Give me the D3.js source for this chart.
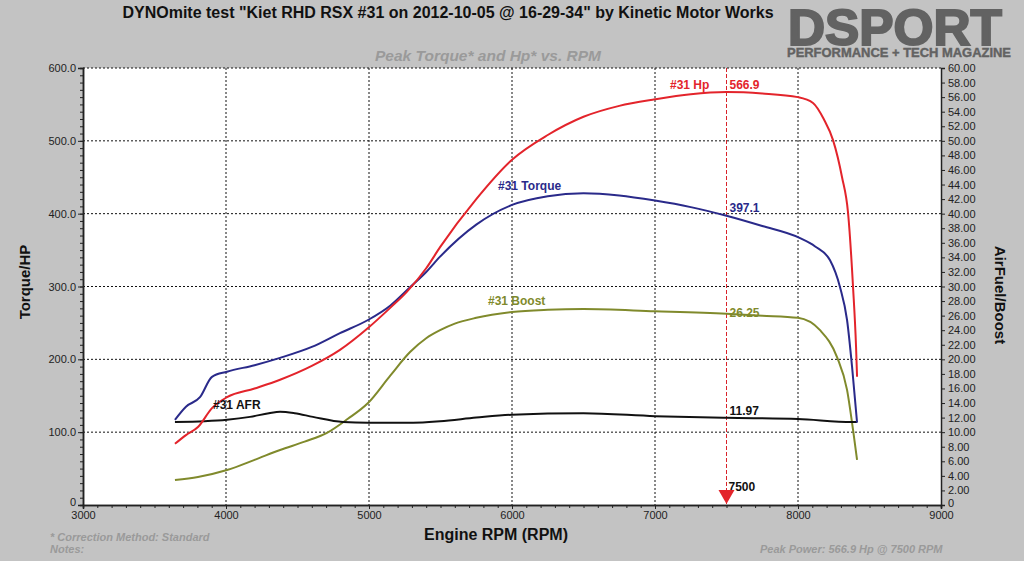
<!DOCTYPE html>
<html>
<head>
<meta charset="utf-8">
<script src="https://cdn.jsdelivr.net/npm/d3@7"></script>
<style>
  html, body { margin: 0; padding: 0; background: #c3c3c3; }
  svg { display: block; font-family: "Liberation Sans", Arial, sans-serif; }
</style>
</head>
<body>
<svg id="chart" width="1024" height="561"></svg>
<script>
// ---- Data ----
const torqueRpm = [3643, 3720, 3818, 3902, 4007, 4200, 4378, 4600, 4797, 4993, 5150, 5287, 5400, 5497, 5750, 6000, 6250, 6500, 6750, 7000, 7250, 7500, 7750, 8007, 8120, 8224, 8294, 8343, 8378, 8413];
const torqueVal = [117, 135, 148, 176, 183, 192, 202, 217, 236, 254, 274, 299, 320, 341, 385, 412, 424, 428, 425, 418, 409, 397.1, 383, 367, 355, 336, 299, 254, 190, 113];

const hpRpm = [3643, 3720, 3804, 3902, 4007, 4200, 4378, 4600, 4797, 4993, 5150, 5266, 5400, 5497, 5750, 6000, 6250, 6500, 6750, 7000, 7250, 7500, 7750, 7999, 8105, 8180, 8245, 8308, 8350, 8385, 8406, 8413];
const hpVal = [84, 96, 107, 133, 148, 160, 172, 191, 213, 243, 271, 293, 325, 354, 420, 474, 508, 533, 548, 557, 564, 566.9, 565, 560, 552, 530, 501, 450, 401, 299, 217, 176];

const boostRpm = [3643, 3804, 4007, 4200, 4378, 4550, 4706, 4850, 4993, 5150, 5287, 5400, 5497, 5600, 5750, 6000, 6250, 6500, 7000, 7500, 7750, 7999, 8154, 8273, 8343, 8385, 8413];
const boostVal = [3.43, 3.85, 4.8, 6.2, 7.55, 8.7, 9.9, 11.8, 14.0, 17.8, 21.0, 22.9, 24.0, 24.9, 25.7, 26.5, 26.8, 26.9, 26.6, 26.25, 26.0, 25.7, 24.0, 20.3, 15.8, 10.3, 6.2];

const afrRpm = [3643, 3850, 4007, 4168, 4300, 4378, 4480, 4608, 4818, 4993, 5308, 5497, 5750, 6000, 6500, 7000, 7500, 7999, 8378, 8413];
const afrVal = [11.4, 11.5, 11.7, 12.1, 12.6, 12.8, 12.6, 12.1, 11.4, 11.3, 11.3, 11.5, 12.0, 12.4, 12.6, 12.2, 11.97, 11.8, 11.4, 11.4];

const xTicks = [3000, 4000, 5000, 6000, 7000, 8000, 9000];
const leftTicks = [0, 100, 200, 300, 400, 500, 600];
const rightTicks = d3.range(0, 61, 2);

const peakRpm = 7500;
const markerValues = { hp: "566.9", torque: "397.1", boost: "26.25", afr: "11.97" };

// ---- Layout ----
const svg = d3.select("#chart");
const L = 83, R = 941, T = 68, B = 505;

const x = d3.scaleLinear().domain([3000, 9000]).range([L, R]);
const yL = d3.scaleLinear().domain([0, 600]).range([B, T]);
const yR = d3.scaleLinear().domain([0, 60]).range([B, T]);

const colors = { hp: "#e3242b", torque: "#2a2a8a", boost: "#808a2c", afr: "#111111" };

// background
svg.append("rect").attr("width", 1024).attr("height", 561).attr("fill", "#c3c3c3");
svg.append("rect").attr("x", L).attr("y", T).attr("width", R - L).attr("height", B - T).attr("fill", "#ffffff");

// title
svg.append("text").attr("x", 448).attr("y", 18).attr("text-anchor", "middle")
  .attr("font-size", 16).attr("font-weight", "bold").attr("fill", "#111")
  .text('DYNOmite test "Kiet RHD RSX #31 on 2012-10-05 @ 16-29-34" by Kinetic Motor Works');

svg.append("text").attr("x", 488).attr("y", 61).attr("text-anchor", "middle")
  .attr("font-size", 15.5).attr("font-weight", "bold").attr("font-style", "italic").attr("fill", "#9a9a9a")
  .text("Peak Torque* and Hp* vs. RPM");

// logo
svg.append("text").attr("x", 788).attr("y", 45)
  .attr("font-size", 50).attr("font-weight", "bold").attr("fill", "#626262")
  .attr("stroke", "#626262").attr("stroke-width", 2).attr("stroke-linejoin", "miter")
  .attr("textLength", 214).attr("lengthAdjust", "spacingAndGlyphs")
  .text("DSPORT");
svg.append("text").attr("x", 787).attr("y", 57)
  .attr("font-size", 12.5).attr("font-weight", "bold").attr("fill", "#626262")
  .attr("stroke", "#626262").attr("stroke-width", 0.4)
  .attr("textLength", 224).attr("lengthAdjust", "spacingAndGlyphs")
  .text("PERFORMANCE + TECH MAGAZINE");

// grid
const grid = svg.append("g").attr("stroke", "#111").attr("stroke-width", 1).attr("stroke-dasharray", "2,2");
grid.selectAll("line.v").data(xTicks.filter(d => d > 3000 && d < 9000)).join("line")
  .attr("x1", d => x(d)).attr("x2", d => x(d)).attr("y1", T).attr("y2", B);
grid.selectAll("line.h").data(leftTicks.filter(d => d > 0)).join("line")
  .attr("x1", L).attr("x2", R).attr("y1", d => yL(d)).attr("y2", d => yL(d));

// peak marker line
svg.append("line").attr("x1", x(peakRpm)).attr("x2", x(peakRpm)).attr("y1", T).attr("y2", B)
  .attr("stroke", "#d9232a").attr("stroke-width", 1).attr("stroke-dasharray", "4,2");

// axes
function styleAxis(g) {
  g.select(".domain").attr("stroke", "#222").attr("stroke-width", 1.5);
  g.selectAll(".tick line").attr("stroke", "#222");
  g.selectAll(".tick text").attr("font-size", 11).attr("fill", "#222").attr("font-family", "Liberation Sans, Arial, sans-serif");
}

// minor ticks
svg.append("g").attr("transform", `translate(${L},0)`)
  .call(d3.axisLeft(yL).tickValues(d3.range(0, 601, 10)).tickSize(3).tickFormat(""))
  .call(styleAxis);
svg.append("g").attr("transform", `translate(0,${B})`)
  .call(d3.axisBottom(x).tickValues(d3.range(3000, 9001, 100)).tickSize(3).tickFormat(""))
  .call(styleAxis);

const leftAxis = svg.append("g").attr("transform", `translate(${L},0)`)
  .call(d3.axisLeft(yL).tickValues(leftTicks).tickSize(5).tickPadding(2)
    .tickFormat(d => d === 0 ? "0" : d.toFixed(1)))
  .call(styleAxis);
leftAxis.selectAll(".tick").filter(d => d === 0).select("text").attr("dy", "0.05em");

svg.append("g").attr("transform", `translate(0,${B})`)
  .call(d3.axisBottom(x).tickValues(xTicks).tickSize(4).tickPadding(2).tickFormat(d3.format("d")))
  .call(styleAxis);

const rightAxis = svg.append("g").attr("transform", `translate(${R},0)`)
  .call(d3.axisRight(yR).tickValues(rightTicks).tickSize(4).tickPadding(3)
    .tickFormat(d => d === 0 ? "0" : d.toFixed(2)))
  .call(styleAxis);
rightAxis.selectAll(".tick").filter(d => d === 0).select("text").attr("dy", "0.15em");

// axis titles
svg.append("text").attr("transform", "translate(30,282) rotate(-90)").attr("text-anchor", "middle")
  .attr("font-size", 15).attr("font-weight", "bold").attr("fill", "#111").text("Torque/HP");
svg.append("text").attr("transform", "translate(995,295) rotate(90)").attr("text-anchor", "middle")
  .attr("font-size", 15).attr("font-weight", "bold").attr("fill", "#111").text("AirFuel/Boost");
svg.append("text").attr("x", 496).attr("y", 540).attr("text-anchor", "middle")
  .attr("font-size", 16).attr("font-weight", "bold").attr("fill", "#111").text("Engine RPM (RPM)");

// lines
function drawLine(rpms, vals, scale, color) {
  const data = rpms.map((r, i) => [r, vals[i]]);
  svg.append("path").datum(data)
    .attr("fill", "none").attr("stroke", color).attr("stroke-width", 2)
    .attr("stroke-linejoin", "round")
    .attr("d", d3.line().x(d => x(d[0])).y(d => scale(d[1])).curve(d3.curveMonotoneX));
}
drawLine(boostRpm, boostVal, yR, colors.boost);
drawLine(afrRpm, afrVal, yR, colors.afr);
drawLine(torqueRpm, torqueVal, yL, colors.torque);
drawLine(hpRpm, hpVal, yL, colors.hp);

// series labels
function label(tx, ty, txt, color) {
  svg.append("text").attr("x", tx).attr("y", ty).attr("font-size", 12).attr("font-weight", "bold")
    .attr("fill", color).text(txt);
}
label(670, 89, "#31 Hp", colors.hp);
label(498, 190, "#31 Torque", colors.torque);
label(488, 305, "#31 Boost", colors.boost);
label(213, 409, "#31 AFR", colors.afr);

const px = x(peakRpm) + 3;
label(px, 89, markerValues.hp, colors.hp);
label(px, 212, markerValues.torque, colors.torque);
label(px, 317, markerValues.boost, colors.boost);
label(px, 415, markerValues.afr, colors.afr);
label(px - 1, 491, String(peakRpm), "#111");

// triangle marker
const tx = x(peakRpm);
svg.append("path").attr("d", `M${tx - 8},${B - 15} L${tx + 8},${B - 15} L${tx},${B - 1} Z`).attr("fill", "#e3242b");

// footer
svg.append("text").attr("x", 50).attr("y", 541).attr("font-size", 11).attr("font-weight", "bold")
  .attr("font-style", "italic").attr("fill", "#9a9a9a").text("* Correction Method: Standard");
svg.append("text").attr("x", 50).attr("y", 553).attr("font-size", 11).attr("font-weight", "bold")
  .attr("font-style", "italic").attr("fill", "#9a9a9a").text("Notes:");
svg.append("text").attr("x", 760).attr("y", 553).attr("font-size", 11).attr("font-weight", "bold")
  .attr("font-style", "italic").attr("fill", "#9a9a9a").text("Peak Power: 566.9 Hp @ 7500 RPM");
</script>
</body>
</html>
